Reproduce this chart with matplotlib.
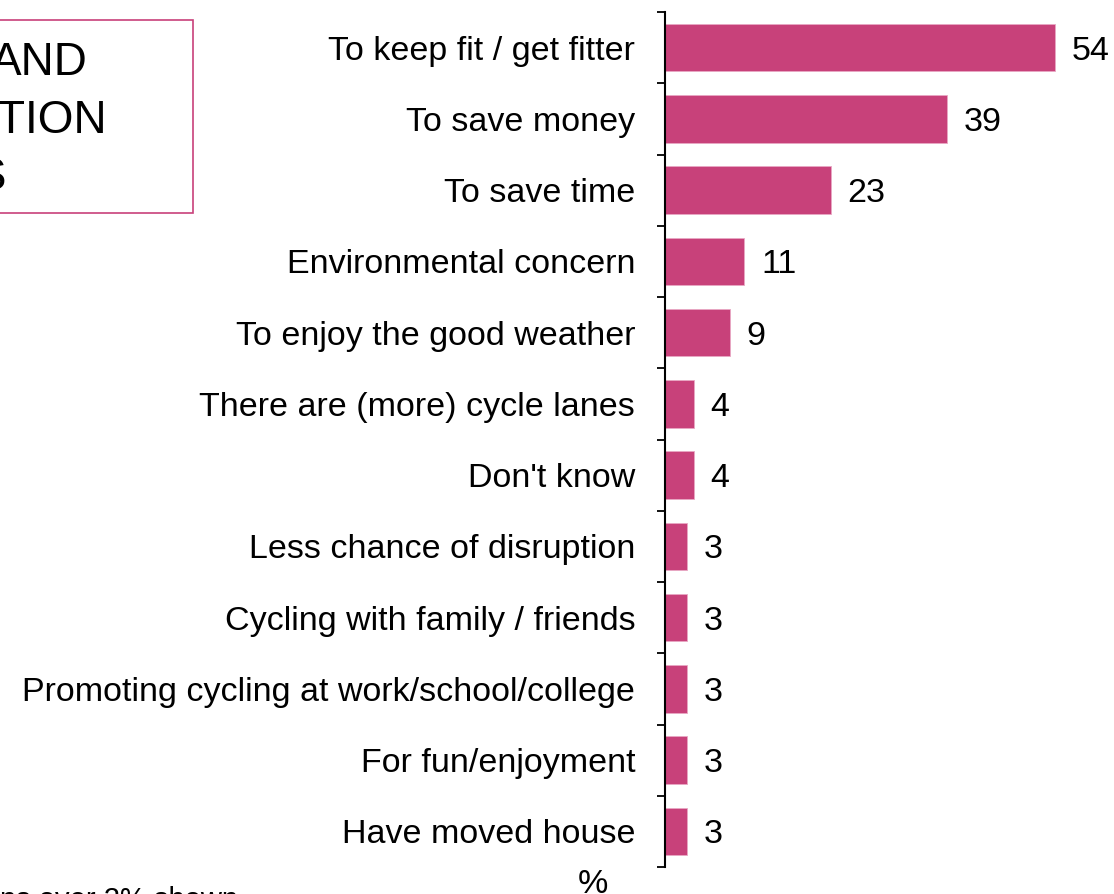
import matplotlib
matplotlib.use("Agg")
import matplotlib.pyplot as plt
from matplotlib.patches import Rectangle

plt.rcParams['font.family'] = ['Liberation Sans', 'DejaVu Sans']

reasons = ["To keep fit / get fitter", "To save money", "To save time",
           "Environmental concern", "To enjoy the good weather",
           "There are (more) cycle lanes", "Don't know",
           "Less chance of disruption", "Cycling with family / friends",
           "Promoting cycling at work/school/college", "For fun/enjoyment",
           "Have moved house"]
values = [54, 39, 23, 11, 9, 4, 4, 3, 3, 3, 3, 3]

W, H = 1114, 894
PINK = "#C8417A"

def fx(px):
    return px / W

def fy(py):
    return 1 - py / H

fig = plt.figure(figsize=(W / 100, H / 100), dpi=100)
ax = fig.add_axes([fx(665), fy(867), fx(W - 665), fy(12) - fy(867)])

pos = list(range(len(reasons)))
ax.barh(pos, values, height=0.67, color=PINK, edgecolor="#E8A8C4", linewidth=0.6)
ax.set_ylim(len(reasons) - 0.5, -0.5)
ax.set_xlim(0, (W - 665) / 7.22)

for p, v in zip(pos, values):
    ax.annotate(str(v), (v, p), xytext=(12, 0), textcoords="offset points",
                va="center_baseline", ha="left", fontsize=24.5)

# category labels, no tick marks at the centres
ax.set_yticks(pos)
ax.set_yticklabels(reasons, fontsize=24.5)
ax.tick_params(axis="y", which="major", length=0, pad=21.5)
# tick marks between categories
ax.set_yticks([p - 0.5 for p in pos] + [len(reasons) - 0.5], minor=True)
ax.tick_params(axis="y", which="minor", length=5.5, width=1.3, direction="out")

ax.set_xticks([])
for s in ["top", "right", "bottom"]:
    ax.spines[s].set_visible(False)
ax.spines["left"].set_linewidth(1.5)

# title box, cut off on the left
fig.patches.append(Rectangle((fx(-10), fy(213)), fx(203), fy(20) - fy(213),
                             transform=fig.transFigure, fill=False,
                             edgecolor=PINK, linewidth=1.2))
fig.text(fx(88), fy(75), "AND", ha="right", va="baseline", fontsize=33)
fig.text(fx(107), fy(133), "TION", ha="right", va="baseline", fontsize=33)
fig.text(fx(6), fy(190), "S", ha="right", va="baseline", fontsize=33)

fig.text(fx(593), fy(893), "%", ha="center", va="baseline", fontsize=24.5)
fig.text(fx(238), fy(908), "ns over 2% shown", ha="right", va="baseline", fontsize=21)

fig.savefig("out.png", dpi=100)
